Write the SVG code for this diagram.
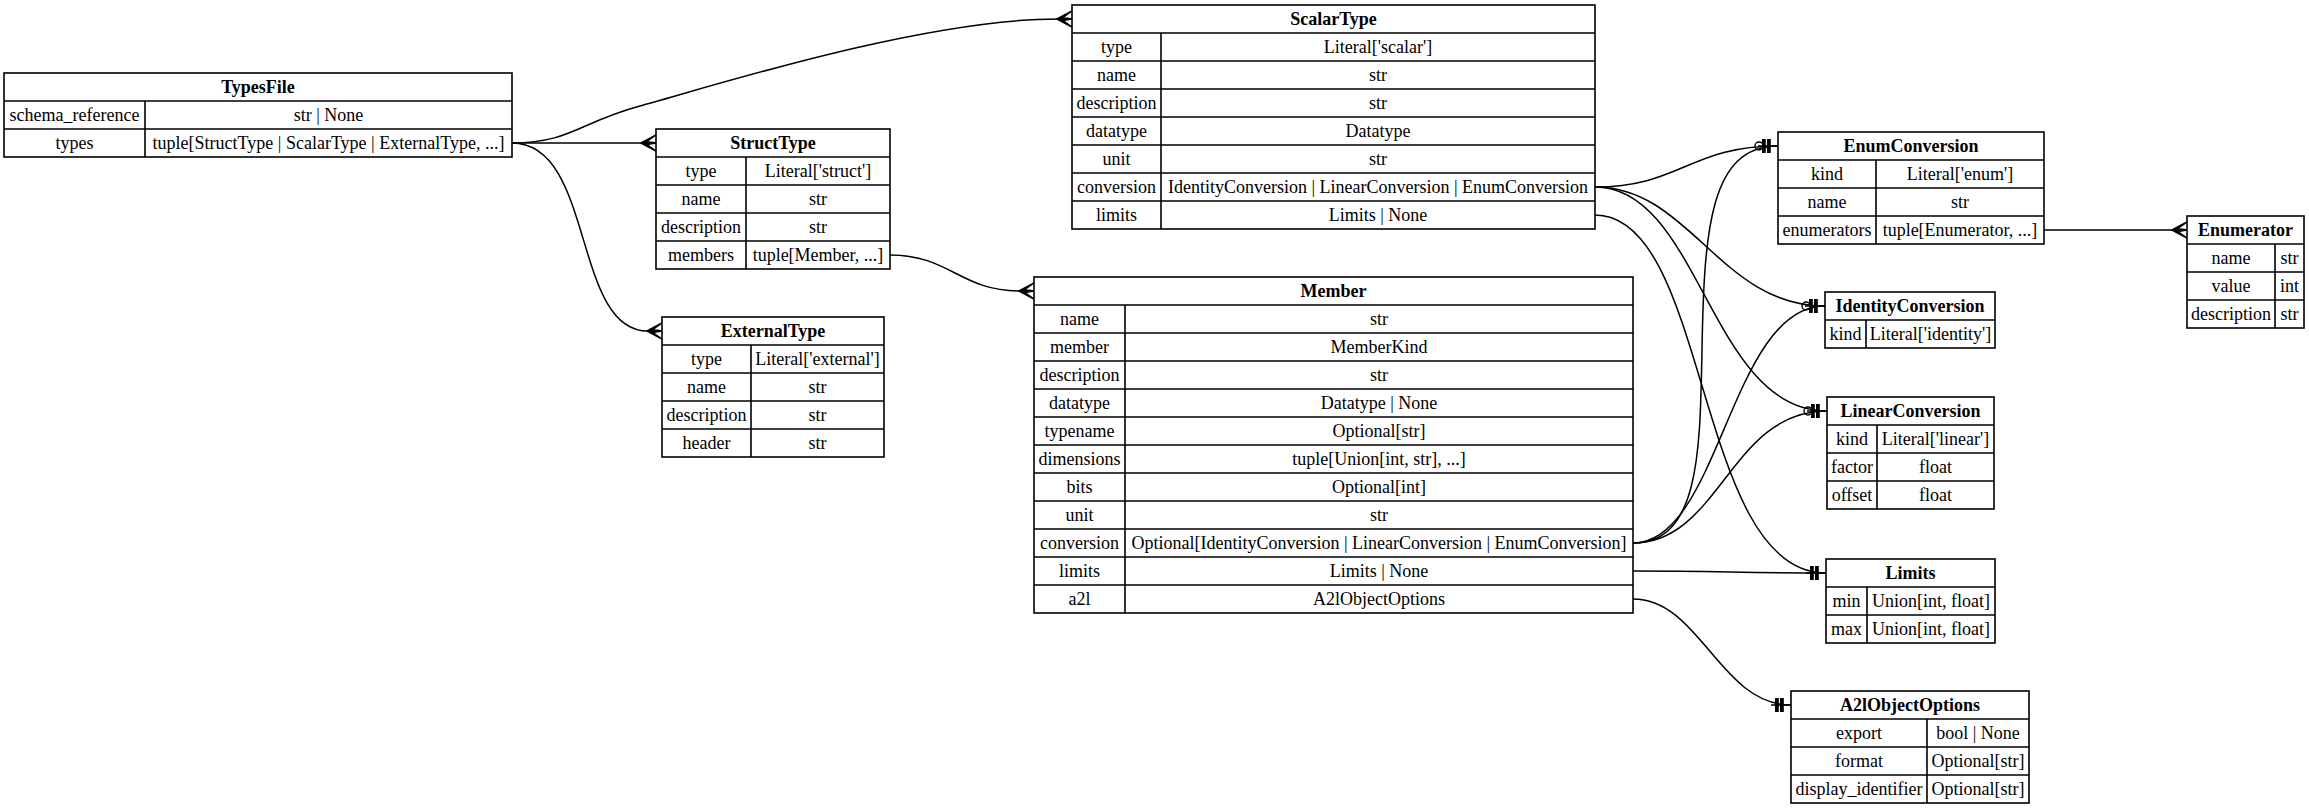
<svg xmlns="http://www.w3.org/2000/svg" xmlns:xlink="http://www.w3.org/1999/xlink" width="2309" height="808" viewBox="0 0 2309 808">
<style>
.bg{fill:#ffffff}
.box{fill:#ffffff;stroke:#000;stroke-width:1.6}
.ln{stroke:#000;stroke-width:1.6;fill:none}
.edge{stroke:#000;stroke-width:1.5;fill:none}
text{font-family:"Liberation Serif","Times New Roman",serif;font-size:18px;fill:#000;text-anchor:middle}
.h{font-weight:bold}
</style>
<defs>
<g id="crow"><path d="M-15,0 L0,-8 L-9,-1.5 L0,0 L-9,1.5 L0,8 Z" fill="#000" stroke="#000" stroke-width="1.5" stroke-linejoin="round"/></g>
<g id="teetee"><line x1="-20" y1="0" x2="0" y2="0" stroke="#000" stroke-width="1.5"/><rect x="-16" y="-7" width="3.8" height="14" fill="#000"/><rect x="-11" y="-7" width="3.8" height="14" fill="#000"/></g>
<g id="odot"><circle cx="-19" cy="0" r="4" fill="none" stroke="#000" stroke-width="1.4"/></g>
</defs>
<rect class="bg" x="0" y="0" width="2309" height="808"/>

<g id="connectors">
<path class="edge" d="M512,143 C570,143 580,122 640,106 S920,19 1058,19"/>
<use xlink:href="#crow" href="#crow" transform="translate(1072,19)"/>
<path class="edge" d="M512,143 L642,143"/>
<use xlink:href="#crow" href="#crow" transform="translate(656,143)"/>
<path class="edge" d="M512,143 C595,143 572,331 648,331"/>
<use xlink:href="#crow" href="#crow" transform="translate(662,331)"/>
<path class="edge" d="M890,255 C950,255 960,291 1020,291"/>
<use xlink:href="#crow" href="#crow" transform="translate(1034,291)"/>
<path class="edge" d="M1595,187 C1680,187 1690,146 1778,146"/>
<path class="edge" d="M1595,187 C1690,187 1720,306 1825,306"/>
<path class="edge" d="M1595,187 C1700,187 1710,411 1827,411"/>
<path class="edge" d="M1595,215 C1710,215 1695,573 1826,573"/>
<path class="edge" d="M1633,543 C1700,543 1700,450 1702,350 C1704,230 1710,146 1778,146"/>
<path class="edge" d="M1633,543 C1720,543 1730,306 1825,306"/>
<path class="edge" d="M1633,543 C1720,543 1730,411 1827,411"/>
<path class="edge" d="M1633,571 C1720,571 1740,573 1826,573"/>
<path class="edge" d="M1633,599 C1700,599 1720,705 1791,705"/>
<path class="edge" d="M2044,230 L2173,230"/>
<use xlink:href="#crow" href="#crow" transform="translate(2187,230)"/>
<use xlink:href="#teetee" href="#teetee" transform="translate(1778,146)"/>
<use xlink:href="#odot" href="#odot" transform="translate(1778,146)"/>
<use xlink:href="#teetee" href="#teetee" transform="translate(1825,306)"/>
<use xlink:href="#odot" href="#odot" transform="translate(1825,306)"/>
<use xlink:href="#teetee" href="#teetee" transform="translate(1827,411)"/>
<use xlink:href="#odot" href="#odot" transform="translate(1827,411)"/>
<use xlink:href="#teetee" href="#teetee" transform="translate(1826,573)"/>
<use xlink:href="#teetee" href="#teetee" transform="translate(1791,705)"/>
</g>

<g id="TypesFile">
<rect class="box" x="4" y="73" width="508" height="84"/>
<path class="ln" d="M4,101 H512 M4,129 H512 M145,101 V157"/>
<text class="h" x="258" y="93">TypesFile</text>
<text x="74.5" y="121">schema_reference</text><text x="328.5" y="121">str | None</text>
<text x="74.5" y="149">types</text><text x="328.5" y="149">tuple[StructType | ScalarType | ExternalType, ...]</text>
</g>

<g id="StructType">
<rect class="box" x="656" y="129" width="234" height="140"/>
<path class="ln" d="M656,157 H890 M656,185 H890 M656,213 H890 M656,241 H890 M746,157 V269"/>
<text class="h" x="773" y="149">StructType</text>
<text x="701" y="177">type</text><text x="818" y="177">Literal['struct']</text>
<text x="701" y="205">name</text><text x="818" y="205">str</text>
<text x="701" y="233">description</text><text x="818" y="233">str</text>
<text x="701" y="261">members</text><text x="818" y="261">tuple[Member, ...]</text>
</g>

<g id="ExternalType">
<rect class="box" x="662" y="317" width="222" height="140"/>
<path class="ln" d="M662,345 H884 M662,373 H884 M662,401 H884 M662,429 H884 M751,345 V457"/>
<text class="h" x="773" y="337">ExternalType</text>
<text x="706.5" y="365">type</text><text x="817.5" y="365">Literal['external']</text>
<text x="706.5" y="393">name</text><text x="817.5" y="393">str</text>
<text x="706.5" y="421">description</text><text x="817.5" y="421">str</text>
<text x="706.5" y="449">header</text><text x="817.5" y="449">str</text>
</g>

<g id="ScalarType">
<rect class="box" x="1072" y="5" width="523" height="224"/>
<path class="ln" d="M1072,33 H1595 M1072,61 H1595 M1072,89 H1595 M1072,117 H1595 M1072,145 H1595 M1072,173 H1595 M1072,201 H1595 M1161,33 V229"/>
<text class="h" x="1333.5" y="25">ScalarType</text>
<text x="1116.5" y="53">type</text><text x="1378" y="53">Literal['scalar']</text>
<text x="1116.5" y="81">name</text><text x="1378" y="81">str</text>
<text x="1116.5" y="109">description</text><text x="1378" y="109">str</text>
<text x="1116.5" y="137">datatype</text><text x="1378" y="137">Datatype</text>
<text x="1116.5" y="165">unit</text><text x="1378" y="165">str</text>
<text x="1116.5" y="193">conversion</text><text x="1378" y="193">IdentityConversion | LinearConversion | EnumConversion</text>
<text x="1116.5" y="221">limits</text><text x="1378" y="221">Limits | None</text>
</g>

<g id="Member">
<rect class="box" x="1034" y="277" width="599" height="336"/>
<path class="ln" d="M1034,305 H1633 M1034,333 H1633 M1034,361 H1633 M1034,389 H1633 M1034,417 H1633 M1034,445 H1633 M1034,473 H1633 M1034,501 H1633 M1034,529 H1633 M1034,557 H1633 M1034,585 H1633 M1125,305 V613"/>
<text class="h" x="1333.5" y="297">Member</text>
<text x="1079.5" y="325">name</text><text x="1379" y="325">str</text>
<text x="1079.5" y="353">member</text><text x="1379" y="353">MemberKind</text>
<text x="1079.5" y="381">description</text><text x="1379" y="381">str</text>
<text x="1079.5" y="409">datatype</text><text x="1379" y="409">Datatype | None</text>
<text x="1079.5" y="437">typename</text><text x="1379" y="437">Optional[str]</text>
<text x="1079.5" y="465">dimensions</text><text x="1379" y="465">tuple[Union[int, str], ...]</text>
<text x="1079.5" y="493">bits</text><text x="1379" y="493">Optional[int]</text>
<text x="1079.5" y="521">unit</text><text x="1379" y="521">str</text>
<text x="1079.5" y="549">conversion</text><text x="1379" y="549">Optional[IdentityConversion | LinearConversion | EnumConversion]</text>
<text x="1079.5" y="577">limits</text><text x="1379" y="577">Limits | None</text>
<text x="1079.5" y="605">a2l</text><text x="1379" y="605">A2lObjectOptions</text>
</g>

<g id="EnumConversion">
<rect class="box" x="1778" y="132" width="266" height="112"/>
<path class="ln" d="M1778,160 H2044 M1778,188 H2044 M1778,216 H2044 M1876,160 V244"/>
<text class="h" x="1911" y="152">EnumConversion</text>
<text x="1827" y="180">kind</text><text x="1960" y="180">Literal['enum']</text>
<text x="1827" y="208">name</text><text x="1960" y="208">str</text>
<text x="1827" y="236">enumerators</text><text x="1960" y="236">tuple[Enumerator, ...]</text>
</g>

<g id="Enumerator">
<rect class="box" x="2187" y="216" width="117" height="112"/>
<path class="ln" d="M2187,244 H2304 M2187,272 H2304 M2187,300 H2304 M2275,244 V328"/>
<text class="h" x="2245.5" y="236">Enumerator</text>
<text x="2231" y="264">name</text><text x="2289.5" y="264">str</text>
<text x="2231" y="292">value</text><text x="2289.5" y="292">int</text>
<text x="2231" y="320">description</text><text x="2289.5" y="320">str</text>
</g>

<g id="IdentityConversion">
<rect class="box" x="1825" y="292" width="170" height="56"/>
<path class="ln" d="M1825,320 H1995 M1866,320 V348"/>
<text class="h" x="1910" y="312">IdentityConversion</text>
<text x="1845.5" y="340">kind</text><text x="1930.5" y="340">Literal['identity']</text>
</g>

<g id="LinearConversion">
<rect class="box" x="1827" y="397" width="167" height="112"/>
<path class="ln" d="M1827,425 H1994 M1827,453 H1994 M1827,481 H1994 M1877,425 V509"/>
<text class="h" x="1910.5" y="417">LinearConversion</text>
<text x="1852" y="445">kind</text><text x="1935.5" y="445">Literal['linear']</text>
<text x="1852" y="473">factor</text><text x="1935.5" y="473">float</text>
<text x="1852" y="501">offset</text><text x="1935.5" y="501">float</text>
</g>

<g id="Limits">
<rect class="box" x="1826" y="559" width="169" height="84"/>
<path class="ln" d="M1826,587 H1995 M1826,615 H1995 M1867,587 V643"/>
<text class="h" x="1910.5" y="579">Limits</text>
<text x="1846.5" y="607">min</text><text x="1931" y="607">Union[int, float]</text>
<text x="1846.5" y="635">max</text><text x="1931" y="635">Union[int, float]</text>
</g>

<g id="A2lObjectOptions">
<rect class="box" x="1791" y="691" width="238" height="112"/>
<path class="ln" d="M1791,719 H2029 M1791,747 H2029 M1791,775 H2029 M1927,719 V803"/>
<text class="h" x="1910" y="711">A2lObjectOptions</text>
<text x="1859" y="739">export</text><text x="1978" y="739">bool | None</text>
<text x="1859" y="767">format</text><text x="1978" y="767">Optional[str]</text>
<text x="1859" y="795">display_identifier</text><text x="1978" y="795">Optional[str]</text>
</g>
</svg>
